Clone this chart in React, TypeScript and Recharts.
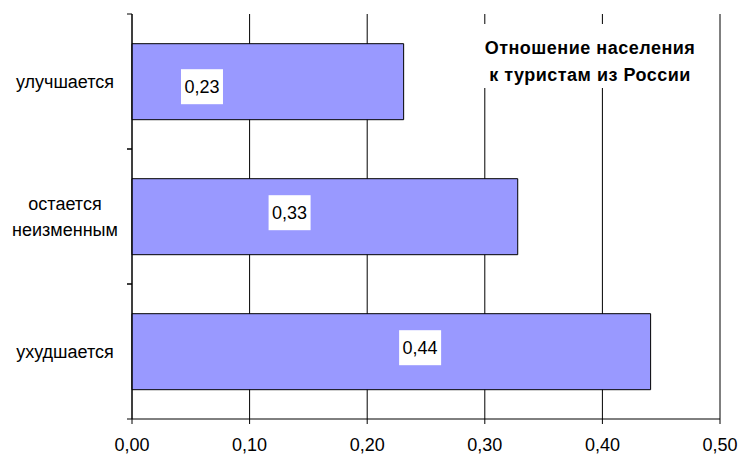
import React from "react";
import { BarChart, Bar, XAxis, YAxis, CartesianGrid, LabelList } from "recharts";

const categories = ["улучшается", "остается неизменным", "ухудшается"];
const values = [0.231, 0.328, 0.441];
const labelAt = [0.0595, 0.134, 0.245];
const xTicks = [0, 0.1, 0.2, 0.3, 0.4, 0.5];
const titleLines = ["Отношение населения", "к туристам из России"];

const data = categories.map((c, i) => ({ name: c, value: values[i], labelAt: labelAt[i] }));

const FONT = "'Liberation Sans', Arial, sans-serif";

const fmt = (v: number) => v.toFixed(2).replace(".", ",");

const YTick = (props: any) => {
  const { x, y, payload } = props;
  const off = payload.offset || 0;
  const words = String(payload.value).split(" ");
  const lines = words.length > 1 && String(payload.value).length > 12 ? [words.slice(0, -1).join(" "), words[words.length - 1]] : [String(payload.value)];
  const axisX = x + 8;
  return (
    <g>
      <line x1={axisX - 5} x2={axisX} y1={y - off} y2={y - off} stroke="#000" />
      <line x1={axisX - 5} x2={axisX} y1={y + off} y2={y + off} stroke="#000" />
      <text x={axisX - 67} y={y} textAnchor="middle" fontFamily={FONT} fontSize={18} fill="#000">
        {lines.map((l, i) => (
          <tspan key={i} x={axisX - 67} dy={i === 0 ? (lines.length > 1 ? -7 : 6) : 26}>
            {l}
          </tspan>
        ))}
      </text>
    </g>
  );
};

const BoxLabel = (props: any) => {
  const { x, y, width, height, value, index } = props;
  const cx = x + (width * data[index].labelAt) / data[index].value;
  const cy = y + height / 2 + (index === 0 ? 5 : -4);
  return (
    <g>
      <rect x={cx - 21} y={cy - 17.5} width={42} height={35} fill="#fff" />
      <text x={cx} y={cy + 6.5} textAnchor="middle" fontFamily={FONT} fontSize={18} fill="#000">
        {fmt(value)}
      </text>
    </g>
  );
};

export default function App() {
  return (
    <div style={{ position: "absolute", left: 0, top: 0, width: 739, height: 456, background: "#fff" }}>
      <BarChart
        width={739}
        height={456}
        data={data}
        layout="vertical"
        margin={{ top: 14, right: 19, bottom: 0, left: 0 }}
        barCategoryGap="22%"
      >
        <CartesianGrid horizontal={false} stroke="#000" strokeWidth={1} />
        <XAxis
          type="number"
          domain={[0, 0.5]}
          ticks={xTicks}
          tickFormatter={fmt}
          height={37}
          stroke="#000"
          tickSize={5}
          tick={{ fill: "#000", fontSize: 18, fontFamily: FONT, dy: 12 }}
          interval={0}
        />
        <YAxis
          type="category"
          dataKey="name"
          width={132}
          stroke="#000"
          tickLine={false}
          tick={<YTick />}
          interval={0}
        />
        <Bar dataKey="value" fill="#9999FF" stroke="#000" strokeWidth={1} isAnimationActive={false}>
          <LabelList dataKey="value" content={<BoxLabel />} />
        </Bar>
      </BarChart>
      <div
        style={{
          position: "absolute",
          left: 472,
          top: 24,
          width: 236,
          height: 64,
          background: "#fff",
          fontFamily: FONT,
          fontWeight: "bold",
          fontSize: 18,
          letterSpacing: 0.5,
          textAlign: "center",
          lineHeight: "27px",
          paddingTop: 11,
          boxSizing: "border-box",
          color: "#000",
          whiteSpace: "nowrap",
        }}
      >
        {titleLines.map((l, i) => (
          <div key={i}>{l}</div>
        ))}
      </div>
    </div>
  );
}
